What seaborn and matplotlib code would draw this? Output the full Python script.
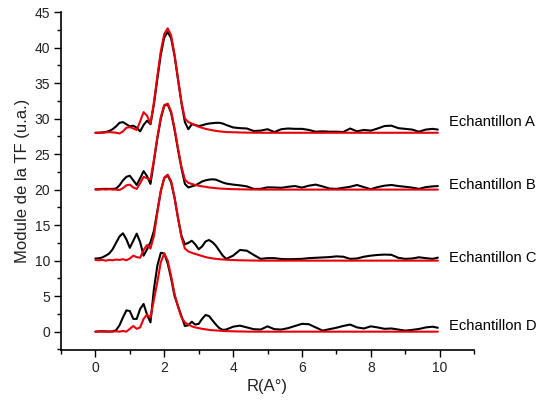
import matplotlib
matplotlib.use("Agg")
import matplotlib.pyplot as plt
import seaborn as sns
import numpy as np
from matplotlib.ticker import MultipleLocator

# ---- data ----
R = [0.0, 0.1, 0.2, 0.3, 0.4, 0.5, 0.6, 0.7, 0.8, 0.9,
     1.0, 1.1, 1.2, 1.3, 1.4, 1.5, 1.6, 1.7, 1.8, 1.9,
     2.0, 2.1, 2.2, 2.3, 2.4, 2.5, 2.6, 2.7, 2.8, 2.9,
     3.0, 3.1, 3.2, 3.3, 3.4, 3.5, 3.6, 3.7, 3.8,
     4.0, 4.2, 4.4, 4.6, 4.8, 5.0, 5.2, 5.4, 5.6, 5.8,
     6.0, 6.2, 6.4, 6.6, 6.8, 7.0, 7.2, 7.4, 7.6, 7.8,
     8.0, 8.2, 8.4, 8.6, 8.8, 9.0, 9.2, 9.4, 9.6, 9.8, 9.95]

samples = ["Echantillon A", "Echantillon B", "Echantillon C", "Echantillon D"]
offsets = [28, 20, 10, 0]

exp_A = [0, 0, 0.05, 0.1, 0.25, 0.5, 0.9, 1.4, 1.5, 1.2,
         0.9, 1.0, 0.7, 0.2, 1.1, 1.7, 1.2, 4.0, 7.6, 11.0,
         13.4, 14.2, 13.3, 10.8, 7.5, 4.2, 1.5, 0.5, 1.2, 1.1,
         0.95, 1.05, 1.2, 1.3, 1.35, 1.4, 1.4, 1.3, 1.1,
         0.75, 0.65, 0.6, 0.25, 0.3, 0.5, 0.1, 0.5, 0.6, 0.55,
         0.55, 0.4, 0.15, 0.2, 0.15, 0.15, 0.1, 0.6, 0.2, 0.4,
         0.3, 0.6, 0.95, 1.0, 0.65, 0.55, 0.45, 0.15, 0.45, 0.55, 0.45]
fit_A = [0, 0, 0, 0.05, 0.1, 0.05, 0.0, -0.1, 0.2, 0.7,
         0.8, 0.6, 0.4, 1.6, 2.9, 2.4, 1.3, 4.3, 8.0, 11.5,
         13.9, 14.7, 13.7, 11.0, 7.6, 4.3, 2.0, 1.5, 1.3, 1.05,
         0.85, 0.7, 0.55, 0.45, 0.35, 0.27, 0.2, 0.15, 0.1,
         0.07, 0.04, 0.02, 0.01, 0, 0, 0, 0, 0, 0,
         0, 0, 0, 0, 0, 0, 0, 0, 0, 0,
         0, 0, 0, 0, 0, 0, 0, 0, 0, 0, 0]

exp_B = [0.05, 0.05, 0.1, 0.1, 0.1, 0.1, 0.15, 0.6, 1.3, 1.8,
         1.95, 1.3, 0.65, 1.6, 2.6, 1.9, 0.8, 4.0, 7.2, 10.0,
         11.8, 12.0, 10.8, 8.4, 5.6, 3.0, 0.8, 0.3, 0.45, 0.6,
         0.85, 1.15, 1.3, 1.4, 1.45, 1.4, 1.2, 1.0, 0.85,
         0.7, 0.6, 0.45, 0.1, 0.1, 0.32, 0.3, 0.25, 0.4, 0.5,
         0.28, 0.55, 0.7, 0.45, 0.15, 0.1, 0.25, 0.4, 0.65, 0.35,
         0.05, 0.35, 0.55, 0.65, 0.5, 0.4, 0.28, 0.1, 0.35, 0.45, 0.5]
fit_B = [0, 0, 0.05, 0, 0.05, 0, 0, -0.05, 0.2, 0.6,
         0.7, 0.3, 0.1, 0.9, 1.8, 1.6, 1.4, 4.2, 7.4, 10.2,
         11.9, 12.1, 11.0, 8.6, 5.8, 3.2, 1.4, 0.95, 0.8, 0.65,
         0.55, 0.45, 0.4, 0.3, 0.25, 0.2, 0.15, 0.13, 0.1,
         0.06, 0.04, 0.02, 0.01, 0, 0, 0, 0, 0, 0,
         0, 0, 0, 0, 0, 0, 0, 0, 0, 0,
         0, 0, 0, 0, 0, 0, 0, 0, 0, 0, 0]

exp_C = [0.3, 0.33, 0.45, 0.7, 1.0, 1.6, 2.5, 3.4, 3.85, 3.0,
         1.8, 2.8, 3.8, 2.6, 0.7, 1.6, 2.6, 4.2, 7.0, 9.8,
         11.6, 12.0, 11.0, 8.8, 6.0, 3.5, 2.3, 2.5, 2.8, 2.3,
         1.6, 2.0, 2.7, 2.9, 2.6, 2.1, 1.4, 0.7, 0.25,
         0.7, 1.5, 1.4, 0.8, 0.25, 0.35, 0.35, 0.23, 0.2, 0.22,
         0.25, 0.35, 0.4, 0.45, 0.5, 0.6, 0.55, 0.25, 0.3, 0.55,
         0.7, 0.8, 0.85, 0.82, 0.4, 0.25, 0.3, 0.47, 0.35, 0.25, 0.42]
fit_C = [0.1, 0.05, 0.1, 0.0, 0.1, 0.05, 0.15, 0.1, 0.2, 0.05,
         0.3, 0.7, 0.5, 0.4, 1.5, 2.2, 1.7, 3.5, 6.8, 9.8,
         11.7, 12.1, 11.2, 8.9, 6.0, 3.3, 1.7, 1.3, 1.1, 0.95,
         0.8, 0.65, 0.5, 0.4, 0.32, 0.25, 0.2, 0.17, 0.13,
         0.08, 0.05, 0.03, 0.01, 0, 0, 0, 0, 0, 0,
         0, 0, 0, 0, 0, 0, 0, 0, 0, 0,
         0, 0, 0, 0, 0, 0, 0, 0, 0, 0, 0]

exp_D = [0, 0.05, 0.05, 0.05, 0.0, 0.05, 0.2, 0.9, 2.0, 3.0,
         2.9, 1.8, 1.8, 3.2, 3.9, 2.4, 1.3, 6.0, 9.3, 11.1,
         11.0, 9.6, 7.5, 5.0, 3.6, 2.2, 0.8, 0.9, 1.4, 1.0,
         1.1, 1.8, 2.35, 2.2, 1.6, 1.0, 0.5, 0.25, 0.3,
         0.7, 0.85, 0.6, 0.35, 0.3, 0.75, 0.35, 0.3, 0.5, 0.8,
         1.1, 1.05, 0.6, 0.15, 0.35, 0.55, 0.8, 1.0, 0.6, 0.45,
         0.75, 0.6, 0.4, 0.45, 0.3, 0.15, 0.25, 0.38, 0.6, 0.7, 0.55]
fit_D = [0, 0, 0, 0, 0.05, 0.0, 0.05, 0.0, 0.1, 0.0,
         0.4, 0.8, 0.4, 0.6, 1.8, 2.4, 2.0, 4.5, 7.0, 9.8,
         11.0, 10.0, 7.8, 5.3, 3.5, 2.0, 1.3, 1.0, 0.75, 0.6,
         0.5, 0.4, 0.33, 0.25, 0.2, 0.17, 0.14, 0.1, 0.08,
         0.05, 0.03, 0.01, 0, 0, 0, 0, 0, 0, 0,
         0, 0, 0, 0, 0, 0, 0, 0, 0, 0,
         0, 0, 0, 0, 0, 0, 0, 0, 0, 0, 0]

exp_curves = [exp_A, exp_B, exp_C, exp_D]
fit_curves = [fit_A, fit_B, fit_C, fit_D]
label_y = [29.5, 20.7, 10.4, 0.8]

x_ticks = [0, 2, 4, 6, 8, 10]
y_ticks = [0, 5, 10, 15, 20, 25, 30, 35, 40, 45]

# ---- style ----
sns.set_style("ticks")
plt.rcParams["font.family"] = ["Liberation Sans", "DejaVu Sans"]
plt.rcParams["xtick.direction"] = "out"
plt.rcParams["ytick.direction"] = "out"

fig = plt.figure(figsize=(5.38, 4.05), dpi=100)
ax = fig.add_axes([61 / 538, 55 / 405, 413 / 538, 338 / 405])

Rarr = np.array(R)
for exp_v, fit_v, off in zip(exp_curves, fit_curves, offsets):
    sns.lineplot(x=Rarr, y=np.array(exp_v) + off, color="black", linewidth=1.5,
                 ax=ax, legend=False, zorder=2)
    sns.lineplot(x=Rarr, y=np.array(fit_v) + off, color="#e8000b", linewidth=1.5,
                 ax=ax, legend=False, zorder=3)

for name, yy in zip(samples, label_y):
    ax.text(10.26, yy, name, ha="left", va="center", fontsize=10.6,
            color="black", clip_on=False)

ax.set_xlim(-1, 11)
ax.set_ylim(-2.58, 45)
ax.set_xticks(x_ticks)
ax.set_yticks(y_ticks)
ax.xaxis.set_minor_locator(MultipleLocator(1))
ax.yaxis.set_minor_locator(MultipleLocator(2.5))
ax.tick_params(which="major", length=5, width=1, labelsize=10, colors="black",
               labelcolor="#222222", pad=3)
ax.tick_params(which="minor", length=3, width=1, colors="black")
ax.set_xlabel("R(A°)", fontsize=12, color="#222222", labelpad=3)
ax.set_ylabel("Module de la TF (u.a.)", fontsize=12, color="#222222", labelpad=3)
sns.despine(ax=ax)
for s in ["left", "bottom"]:
    ax.spines[s].set_color("black")
    ax.spines[s].set_linewidth(1.2)

fig.savefig("out.png", dpi=100)
